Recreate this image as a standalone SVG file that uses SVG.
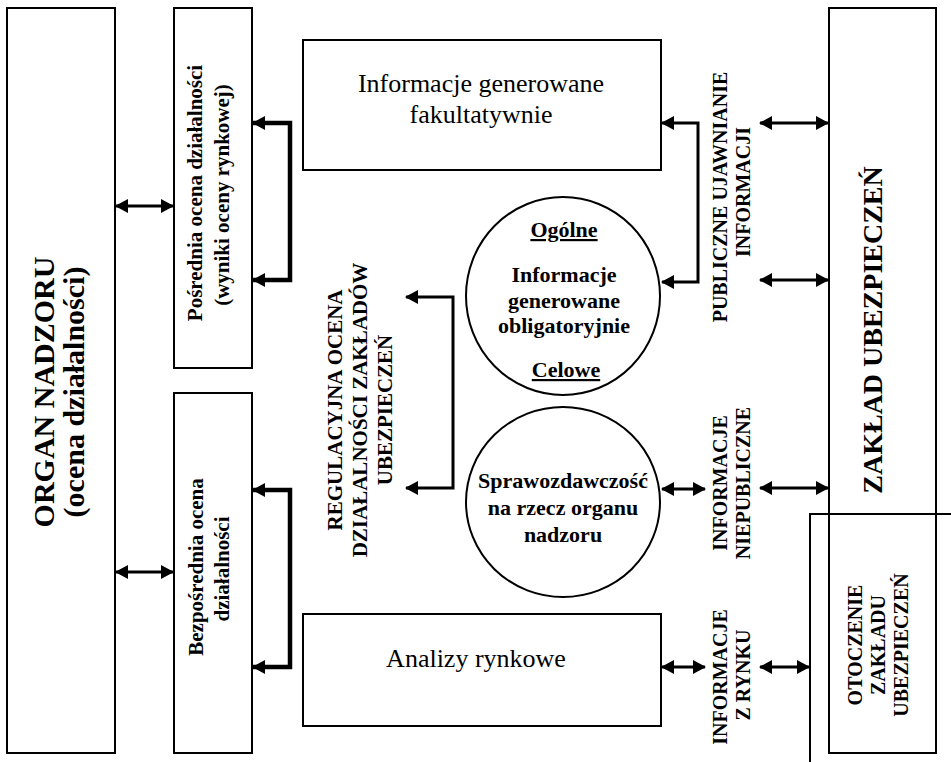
<svg xmlns="http://www.w3.org/2000/svg" width="951" height="762" viewBox="0 0 951 762">
<style>
.box{fill:none;stroke:#000;stroke-width:2}
.t{font-family:"Liberation Serif","Times New Roman",serif;fill:#000}
.b{font-weight:bold}
.c{text-anchor:middle}
.con{fill:none;stroke:#000;stroke-width:3;marker-start:url(#ah);marker-end:url(#ah)}
.thick{stroke-width:4.5}
</style>
<defs>
<marker id="ah" markerUnits="userSpaceOnUse" viewBox="0 0 13 14" refX="12" refY="7" markerWidth="13" markerHeight="14" orient="auto-start-reverse">
<path d="M0,0 L13,7 L0,14 z" fill="#000"/>
</marker>
</defs>
<rect width="951" height="762" fill="#fff"/>

<g id="organ">
<rect class="box" x="7" y="8" width="108" height="745"/>
<text class="t b c" font-size="30" transform="translate(54,392) rotate(-90)">ORGAN NADZORU</text>
<text class="t b c" font-size="30" transform="translate(84,392) rotate(-90)">(ocena działalności)</text>
</g>

<g id="posrednia">
<rect class="box" x="174" y="8" width="78" height="360"/>
<text class="t b c" font-size="21" transform="translate(202,193) rotate(-90)">Pośrednia ocena działalności</text>
<text class="t b c" font-size="21" transform="translate(229,195) rotate(-90)">(wyniki oceny rynkowej)</text>
</g>

<g id="bezposrednia">
<rect class="box" x="174" y="393" width="78" height="360"/>
<text class="t b c" font-size="21" transform="translate(203,567) rotate(-90)">Bezpośrednia ocena</text>
<text class="t b c" font-size="21" transform="translate(229,569) rotate(-90)">działalności</text>
</g>

<g id="regulacyjna">
<text class="t b c" font-size="21" transform="translate(342,410) rotate(-90)">REGULACYJNA OCENA</text>
<text class="t b c" font-size="21" transform="translate(367,410) rotate(-90)">DZIAŁALNOŚCI ZAKŁADÓW</text>
<text class="t b c" font-size="21" transform="translate(392,410) rotate(-90)">UBEZPIECZEŃ</text>
</g>

<g id="fakultatywnie">
<rect class="box" x="303" y="40" width="358" height="130"/>
<text class="t c" font-size="26" x="481" y="92">Informacje generowane</text>
<text class="t c" font-size="26" x="481" y="123">fakultatywnie</text>
</g>

<g id="obligatoryjnie">
<ellipse class="box" cx="563" cy="296" rx="97" ry="99"/>
<text class="t b c" font-size="22" x="564" y="237" text-decoration="underline">Ogólne</text>
<text class="t b c" font-size="22" x="564" y="282">Informacje</text>
<text class="t b c" font-size="22" x="564" y="308">generowane</text>
<text class="t b c" font-size="22" x="564" y="333">obligatoryjnie</text>
<text class="t b c" font-size="22" x="566" y="377" text-decoration="underline">Celowe</text>
</g>

<g id="sprawozdawczosc">
<ellipse class="box" cx="563" cy="502" rx="97" ry="95"/>
<text class="t b c" font-size="22" x="563" y="488">Sprawozdawczość</text>
<text class="t b c" font-size="22" x="563" y="515">na rzecz organu</text>
<text class="t b c" font-size="22" x="563" y="542">nadzoru</text>
</g>

<g id="analizy">
<rect class="box" x="303" y="614" width="358" height="112"/>
<text class="t c" font-size="26" x="476" y="667">Analizy rynkowe</text>
</g>

<g id="publiczne">
<text class="t b c" font-size="20" transform="translate(727,197) rotate(-90)">PUBLICZNE UJAWNIANIE</text>
<text class="t b c" font-size="20" transform="translate(750,192) rotate(-90)">INFORMACJI</text>
</g>

<g id="niepubliczne">
<text class="t b c" font-size="20" transform="translate(727,483) rotate(-90)">INFORMACJE</text>
<text class="t b c" font-size="20" transform="translate(750,483) rotate(-90)">NIEPUBLICZNE</text>
</g>

<g id="rynku">
<text class="t b c" font-size="20" transform="translate(727,677) rotate(-90)">INFORMACJE</text>
<text class="t b c" font-size="20" transform="translate(750,675) rotate(-90)">Z RYNKU</text>
</g>

<g id="zaklad">
<rect class="box" x="829" y="8" width="107" height="745"/>
<text class="t b c" font-size="28" transform="translate(882,330) rotate(-90)">ZAKŁAD UBEZPIECZEŃ</text>
</g>

<g id="otoczenie">
<path class="box" d="M810,762 V514 H951"/>
<text class="t b c" font-size="20" transform="translate(862,645) rotate(-90)">OTOCZENIE</text>
<text class="t b c" font-size="20" transform="translate(885,645) rotate(-90)">ZAKŁADU</text>
<text class="t b c" font-size="20" transform="translate(908,645) rotate(-90)">UBEZPIECZEŃ</text>
</g>

<g id="connectors">
<path class="con" d="M116,206 H173"/>
<path class="con" d="M116,572 H173"/>
<path class="con thick" d="M253,123 H290 V280 H253"/>
<path class="con thick" d="M253,490 H290 V667 H253"/>
<path class="con" d="M406,297 H453 V488 H406"/>
<path class="con" d="M662,123 H698 V282 H662"/>
<path class="con" d="M662,489 H705"/>
<path class="con" d="M662,667 H705"/>
<path class="con" d="M760,123 H828"/>
<path class="con" d="M760,280 H828"/>
<path class="con" d="M760,488 H828"/>
<path class="con" d="M760,667 H809"/>
</g>
</svg>
